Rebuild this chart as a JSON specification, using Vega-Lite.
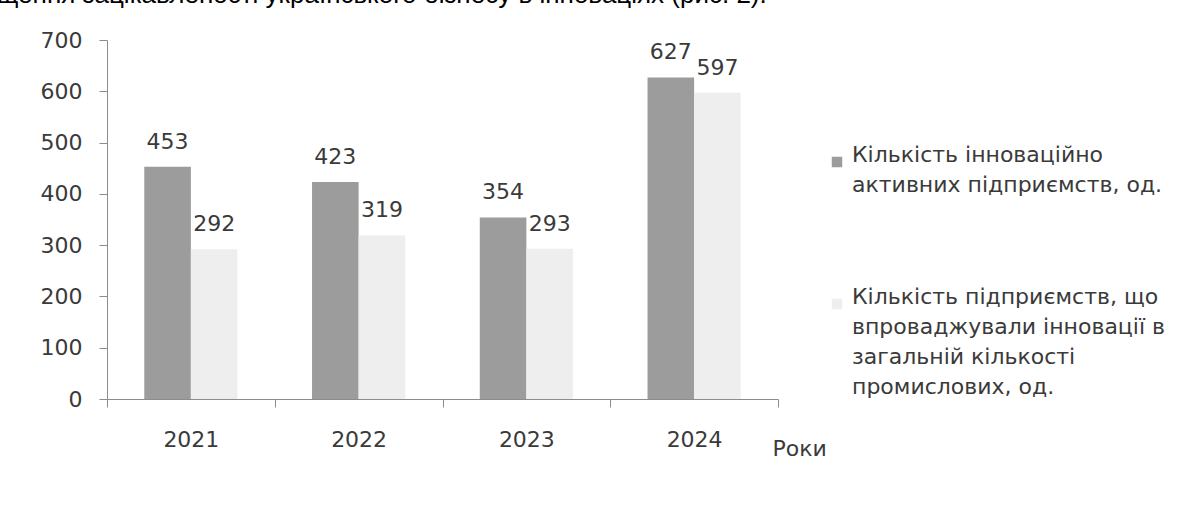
{
  "$schema": "https://vega.github.io/schema/vega-lite/v6.json",
  "width": 671,
  "height": 359,
  "autosize": {"type": "none"},
  "padding": {"left": 107, "top": 40, "right": 412, "bottom": 131},
  "background": "white",
  "title": {
    "text": "щення зацікавленості українського бізнесу в інноваціях (рис. 2).",
    "anchor": "start",
    "frame": "group",
    "font": "Liberation Sans",
    "fontSize": 26,
    "fontWeight": "normal",
    "color": "#000000",
    "dx": -110,
    "offset": 0,
    "baseline": "alphabetic"
  },
  "data": {
    "values": [
      {"year": "2021", "series": "Кількість інноваційно|активних підприємств, од.", "value": 453},
      {"year": "2021", "series": "Кількість підприємств, що|впроваджували інновації в|загальній кількості|промислових, од.", "value": 292},
      {"year": "2022", "series": "Кількість інноваційно|активних підприємств, од.", "value": 423},
      {"year": "2022", "series": "Кількість підприємств, що|впроваджували інновації в|загальній кількості|промислових, од.", "value": 319},
      {"year": "2023", "series": "Кількість інноваційно|активних підприємств, од.", "value": 354},
      {"year": "2023", "series": "Кількість підприємств, що|впроваджували інновації в|загальній кількості|промислових, од.", "value": 293},
      {"year": "2024", "series": "Кількість інноваційно|активних підприємств, од.", "value": 627},
      {"year": "2024", "series": "Кількість підприємств, що|впроваджували інновації в|загальній кількості|промислових, од.", "value": 597}
    ]
  },
  "encoding": {
    "x": {
      "field": "year",
      "type": "nominal",
      "scale": {"paddingInner": 0, "paddingOuter": 0},
      "axis": {
        "title": "Роки",
        "labelAngle": 0,
        "tickBand": "extent",
        "tickSize": 8,
        "labelPadding": 22,
        "labelFont": "DejaVu Sans",
        "labelFontSize": 22,
        "labelColor": "#3a3a3a",
        "domainColor": "#8c8c8c",
        "tickColor": "#8c8c8c",
        "titleFont": "DejaVu Sans",
        "titleFontSize": 22,
        "titleFontWeight": "normal",
        "titleColor": "#3a3a3a",
        "titleX": 665,
        "titleY": 49,
        "titleAlign": "left",
        "titleBaseline": "middle",
        "titleAngle": 0
      }
    },
    "xOffset": {
      "field": "series",
      "type": "nominal",
      "sort": ["Кількість інноваційно|активних підприємств, од.", "Кількість підприємств, що|впроваджували інновації в|загальній кількості|промислових, од."],
      "scale": {"paddingInner": 0, "paddingOuter": 0.8}
    },
    "y": {
      "field": "value",
      "type": "quantitative",
      "scale": {"domain": [0, 700]},
      "axis": {
        "title": null,
        "values": [0, 100, 200, 300, 400, 500, 600, 700],
        "grid": false,
        "tickSize": 8,
        "labelPadding": 17,
        "labelFont": "DejaVu Sans",
        "labelFontSize": 22,
        "labelColor": "#3a3a3a",
        "domainColor": "#8c8c8c",
        "tickColor": "#8c8c8c"
      }
    },
    "color": {
      "field": "series",
      "type": "nominal",
      "scale": {
        "domain": ["Кількість інноваційно|активних підприємств, од.", "Кількість підприємств, що|впроваджували інновації в|загальній кількості|промислових, од."],
        "range": ["#9c9c9c", "#eeeeee"]
      },
      "legend": {
        "title": null,
        "orient": "none",
        "legendX": 719,
        "legendY": 111,
        "direction": "vertical",
        "symbolType": "square",
        "symbolSize": 110,
        "symbolStrokeWidth": 0,
        "labelFont": "DejaVu Sans",
        "labelFontSize": 22,
        "labelColor": "#3a3a3a",
        "labelOffset": 4,
        "labelBaseline": "alphabetic",
        "labelLimit": 500,
        "rowPadding": 90,
        "labelExpr": "split(datum.label, '|')"
      }
    }
  },
  "layer": [
    {"mark": {"type": "bar"}},
    {
      "mark": {"type": "text", "baseline": "alphabetic", "dy": -18, "font": "DejaVu Sans", "fontSize": 22},
      "encoding": {
        "text": {"field": "value", "type": "quantitative"},
        "color": {"value": "#3a3a3a"}
      }
    }
  ],
  "config": {
    "view": {"stroke": null},
    "style": {"guide-label": {"lineHeight": 30}}
  }
}
